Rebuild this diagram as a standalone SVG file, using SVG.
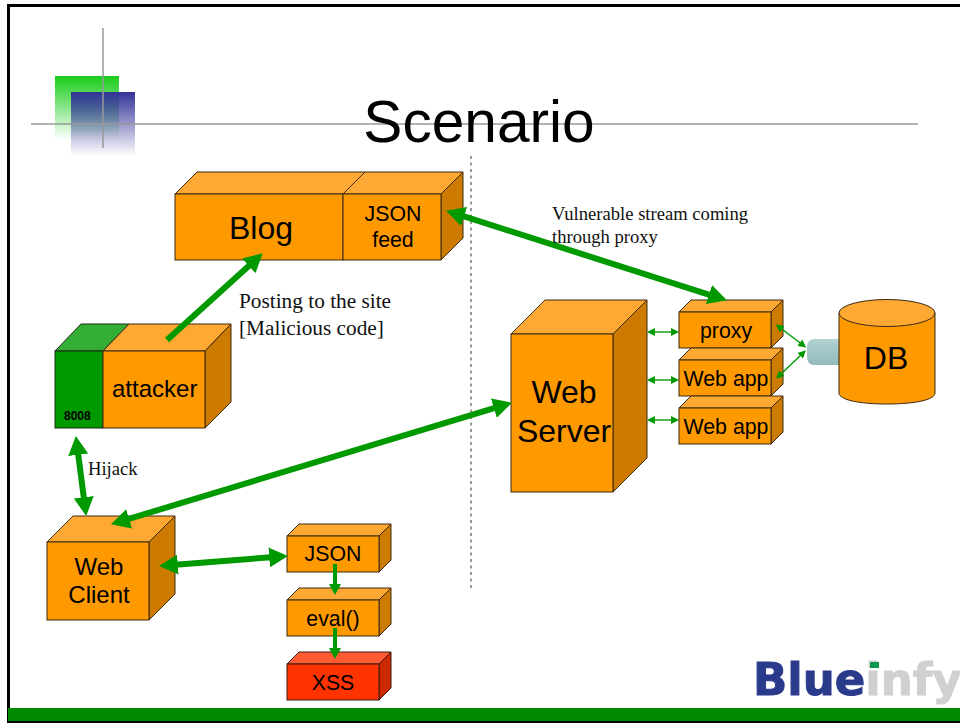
<svg xmlns="http://www.w3.org/2000/svg" width="960" height="723" viewBox="0 0 960 723">
<style>
.f{fill:#ff9900;stroke:#3a2a10;stroke-width:1}
.t{fill:#ffa833;stroke:#3a2a10;stroke-width:1}
.s{fill:#cc7a00;stroke:#3a2a10;stroke-width:1}
.gf{fill:#009900;stroke:#1a2a10;stroke-width:1}
.gt{fill:#33ad33;stroke:#1a2a10;stroke-width:1}
.rf{fill:#ff3300;stroke:#3a1a10;stroke-width:1}
.rt{fill:#ff5c33;stroke:#3a1a10;stroke-width:1}
.rs{fill:#cc2900;stroke:#3a1a10;stroke-width:1}
text{font-family:"Liberation Sans",Arial,sans-serif;fill:#000}
.m{text-anchor:middle}
.a21{font-size:21.3px}
.a24{font-size:24px}
.a32{font-size:32px}
.se{font-family:"Liberation Serif","Times New Roman",serif;font-size:18.600px;fill:#111}
.se2{font-family:"Liberation Serif","Times New Roman",serif;font-size:21.300px;fill:#111}
.thick{stroke:#009900;stroke-width:6;fill:none;marker-start:url(#big);marker-end:url(#big)}
.one{stroke:#009900;stroke-width:6;fill:none;marker-end:url(#big)}
.mid{stroke:#009900;stroke-width:4;fill:none;marker-end:url(#medium)}
.thin{stroke:#009900;stroke-width:1.4;fill:none;marker-start:url(#small);marker-end:url(#small)}
</style>
<defs>
<linearGradient id="gg" x1="0" y1="0" x2="0" y2="1"><stop offset="0" stop-color="#18cc18"/><stop offset="1" stop-color="#18cc18" stop-opacity="0"/></linearGradient>
<linearGradient id="bg" x1="0" y1="0" x2="0" y2="1"><stop offset="0" stop-color="#333399"/><stop offset="1" stop-color="#333399" stop-opacity="0"/></linearGradient>
<linearGradient id="pipe" x1="0" y1="0" x2="0" y2="1"><stop offset="0" stop-color="#b4d2d2"/><stop offset=".5" stop-color="#a3c6c8"/><stop offset="1" stop-color="#94babc"/></linearGradient>
<filter id="soft" x="-5%" y="-10%" width="110%" height="120%"><feGaussianBlur stdDeviation="0.6"/></filter>
<marker id="big" markerUnits="userSpaceOnUse" markerWidth="20" markerHeight="20" viewBox="0 0 18 18" refX="8" refY="9" orient="auto-start-reverse"><path d="M0 0L17 9L0 18Z" fill="#009900"/></marker>
<marker id="medium" markerUnits="userSpaceOnUse" markerWidth="14" markerHeight="14" viewBox="0 0 14 14" refX="1" refY="7" orient="auto"><path d="M0 1L11 7L0 13Z" fill="#009900"/></marker>
<marker id="small" markerUnits="userSpaceOnUse" markerWidth="9" markerHeight="9" viewBox="0 0 9 9" refX="4" refY="4.5" orient="auto-start-reverse"><path d="M0 .5L8 4.5L0 8.5Z" fill="#009900"/></marker>
</defs>
<rect width="960" height="723" fill="#fff"/>
<g id="frame">
<path d="M8.500 723V5.500H960" fill="none" stroke="#000" stroke-width="3"/>
<rect x="8" y="708" width="952" height="13" fill="#008a00"/>
<rect x="7" y="721" width="953" height="2" fill="#000"/>
</g>
<g id="decoration">
<rect x="55" y="76" width="64" height="64" fill="url(#gg)"/>
<rect x="71" y="92" width="64" height="64" fill="url(#bg)"/>
<path d="M31 124H918" stroke="#999" stroke-width="1.500"/>
<path d="M103 28V148" stroke="#999" stroke-width="1.500"/>
<path d="M471 156V590" stroke="#777" stroke-width="1.500" stroke-dasharray="3 3.500"/>
</g>
<text id="title" class="m" x="479" y="142" font-size="58.600">Scenario</text>
<g id="blog">
<path class="t" d="M175 194L197 172H463L441 194Z"/>
<path class="t" d="M343 194L365 172"/>
<path class="s" d="M441 194L463 172V238L441 260Z"/>
<rect class="f" x="175" y="194" width="168" height="66"/>
<rect class="f" x="343" y="194" width="98" height="66"/>
<text class="m a32" x="261" y="239">Blog</text>
<text class="m a21" x="393" y="221">JSON</text>
<text class="m a21" x="393" y="247">feed</text>
</g>
<g id="attacker">
<path class="gt" d="M55 351L81 324H129L103 351Z"/>
<path class="t" d="M103 351L129 324H231L205 351Z"/>
<path class="s" d="M205 351L231 324V402L205 428Z"/>
<rect class="gf" x="55" y="351" width="48" height="77"/>
<rect class="f" x="103" y="351" width="102" height="77"/>
<text class="a24" x="112" y="397">attacker</text>
<text x="64" y="420" font-size="12" font-weight="bold">8008</text>
</g>
<g id="web-client">
<path class="t" d="M47 542L73 516H175L149 542Z"/>
<path class="s" d="M149 542L175 516V594L149 620Z"/>
<rect class="f" x="47" y="542" width="102" height="78"/>
<text class="m a24" x="99" y="575">Web</text>
<text class="m a24" x="99" y="603">Client</text>
</g>
<g id="json">
<path class="t" d="M287 536L299 524H391L379 536Z"/>
<path class="s" d="M379 536L391 524V560L379 572Z"/>
<rect class="f" x="287" y="536" width="92" height="36"/>
<text class="m a21" x="333" y="561">JSON</text>
</g>
<g id="eval">
<path class="t" d="M287 600L299 588H391L379 600Z"/>
<path class="s" d="M379 600L391 588V624L379 636Z"/>
<rect class="f" x="287" y="600" width="92" height="36"/>
<text class="m a21" x="333" y="626">eval()</text>
</g>
<g id="xss">
<path class="rt" d="M287 664L299 652H391L379 664Z"/>
<path class="rs" d="M379 664L391 652V688L379 700Z"/>
<rect class="rf" x="287" y="664" width="92" height="36"/>
<text class="m a21" x="333" y="690">XSS</text>
</g>
<g id="web-server">
<path class="t" d="M511 334L545 300H647L613 334Z"/>
<path class="s" d="M613 334L647 300V458L613 492Z"/>
<rect class="f" x="511" y="334" width="102" height="158"/>
<text class="m a32" x="564" y="403">Web</text>
<text class="m a32" x="564" y="442">Server</text>
</g>
<g id="proxy">
<path class="t" d="M679 312L691 300H783L771 312Z"/>
<path class="s" d="M771 312L783 300V336L771 348Z"/>
<rect class="f" x="679" y="312" width="92" height="36"/>
<text class="m a21" x="726" y="338">proxy</text>
</g>
<g id="web-app-1">
<path class="t" d="M679 360L691 348H783L771 360Z"/>
<path class="s" d="M771 360L783 348V384L771 396Z"/>
<rect class="f" x="679" y="360" width="92" height="36"/>
<text class="m a21" x="726" y="386">Web app</text>
</g>
<g id="web-app-2">
<path class="t" d="M679 408L691 396H783L771 408Z"/>
<path class="s" d="M771 408L783 396V432L771 444Z"/>
<rect class="f" x="679" y="408" width="92" height="36"/>
<text class="m a21" x="726" y="434">Web app</text>
</g>
<g id="db">
<path d="M840 339H814Q807 339 807 348V356Q807 365 814 365H840Z" fill="url(#pipe)"/>
<path class="f" d="M839 313V393C839 400 860 404 887 404C914 404 935 400 935 393V313Z"/>
<ellipse class="t" cx="887" cy="313" rx="48" ry="13.500"/>
<text class="m a32" x="886" y="369">DB</text>
</g>
<g id="connectors">
<path class="one" d="M167 340L255.300 260"/>
<path class="thick" d="M455.600 213.700L717.400 297.300"/>
<path class="thick" d="M120.600 521.400L502.400 405.600"/>
<path class="thick" d="M77.100 445.900L84.900 506.100"/>
<path class="thick" d="M169 565.300L278 556.700"/>
<path class="mid" d="M335 564V585"/>
<path class="mid" d="M335 628V649"/>
<path class="thin" d="M651 332H675"/>
<path class="thin" d="M651 380H675"/>
<path class="thin" d="M651 420H675"/>
<path class="thin" d="M779 327L803 345"/>
<path class="thin" d="M779 376L803 353"/>
</g>
<g id="labels">
<text class="se" x="552" y="220">Vulnerable stream coming</text>
<text class="se" x="552" y="243">through proxy</text>
<text class="se2" x="239" y="308">Posting to the site</text>
<text class="se2" x="239" y="335">[Malicious code]</text>
<text class="se" x="88" y="475">Hijack</text>
</g>
<g id="logo">
<g filter="url(#soft)">
<text x="753" y="695" font-size="45" font-weight="bold" style="font-family:'DejaVu Sans',sans-serif;fill:#2b3a8c;stroke:#2b3a8c;stroke-width:1">Blue<tspan style="fill:#d0d0d0;stroke:#d0d0d0">infy</tspan></text>
<rect x="870" y="662" width="9" height="6" fill="#0a9a50"/>
</g>
</g>
</svg>
